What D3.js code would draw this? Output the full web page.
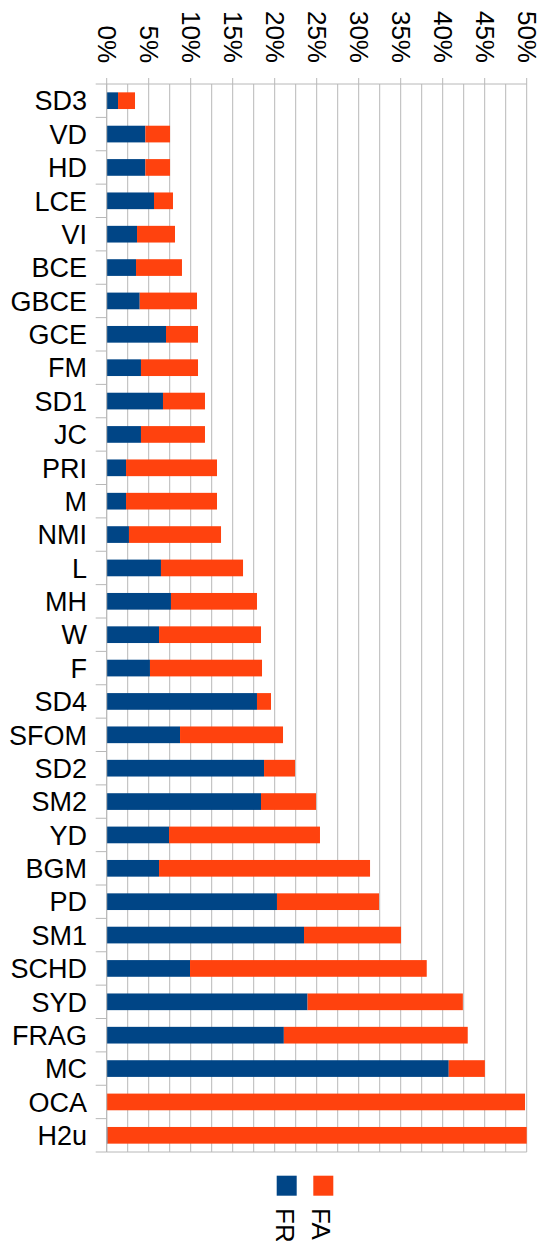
<!DOCTYPE html>
<html>
<head>
<meta charset="utf-8">
<script src="https://cdn.jsdelivr.net/npm/d3@7"></script>
<style>
  html, body { margin: 0; padding: 0; background: #fff; }
  svg { display: block; }
  text { font-family: "Liberation Sans", Arial, sans-serif; fill: #000; }
</style>
</head>
<body>
<svg id="chart" width="539" height="1241"></svg>
<script>
// ---- data ----
const categories = ["SD3","VD","HD","LCE","VI","BCE","GBCE","GCE","FM","SD1","JC","PRI","M","NMI","L","MH","W","F","SD4","SFOM","SD2","SM2","YD","BGM","PD","SM1","SCHD","SYD","FRAG","MC","OCA","H2u"];
const FR = [1.35,4.6,4.6,5.63,3.61,3.49,3.93,7.06,4.08,6.70,4.08,2.30,2.30,2.65,6.46,7.65,6.23,5.15,17.89,8.73,18.73,18.37,7.42,6.23,20.27,23.49,9.92,23.91,21.09,40.72,0,0.1];
const FA = [2.02,2.94,2.94,2.26,4.52,5.47,6.82,3.81,6.79,5.00,7.62,10.83,10.83,10.96,9.77,10.24,12.14,13.34,1.67,12.26,3.69,6.55,17.97,25.12,12.15,11.55,28.18,18.49,21.89,4.30,49.8,49.9];
const seriesNames = ["FR","FA"];
const seriesColors = ["#004586","#ff420e"];
const tickValues = [0,5,10,15,20,25,30,35,40,45,50];
const gridValues = d3.range(0, 50.01, 2.5);

// ---- layout ----
const svg = d3.select("#chart");
const pLeft = 106.7, pRight = 526.7, pTop = 84, pBottom = 1152;
const x = d3.scaleLinear().domain([0, 50]).range([pLeft, pRight]);
const y = d3.scaleBand().domain(categories).range([pTop, pBottom]).paddingInner(0.5).paddingOuter(0.25);
const gridColor = "#b8b8b8";

// gridlines
svg.append("g").selectAll("line").data(gridValues).join("line")
  .attr("x1", d => x(d)).attr("x2", d => x(d))
  .attr("y1", pTop).attr("y2", pBottom)
  .attr("stroke", gridColor).attr("stroke-width", 1);

// bars
const stacked = categories.map((c, i) => ({ c, fr: FR[i], fa: FA[i] }));
const gBars = svg.append("g");
gBars.selectAll("rect.fr").data(stacked).join("rect")
  .attr("class", "fr")
  .attr("x", x(0))
  .attr("y", d => y(d.c))
  .attr("width", d => x(d.fr) - x(0))
  .attr("height", y.bandwidth())
  .attr("fill", seriesColors[0]);
gBars.selectAll("rect.fa").data(stacked).join("rect")
  .attr("class", "fa")
  .attr("x", d => x(d.fr))
  .attr("y", d => y(d.c))
  .attr("width", d => x(Math.min(50, d.fr + d.fa)) - x(d.fr))
  .attr("height", y.bandwidth())
  .attr("fill", seriesColors[1]);

// frame lines: left axis, top & bottom
const boundaries = d3.range(0, categories.length + 1).map(i => pTop + i * (pBottom - pTop) / categories.length);
svg.append("g").selectAll("line").data(boundaries).join("line")
  .attr("x1", pLeft - 11).attr("x2", pLeft)
  .attr("y1", d => d).attr("y2", d => d)
  .attr("stroke", gridColor);
svg.append("line").attr("x1", pLeft).attr("x2", pLeft).attr("y1", pTop).attr("y2", pBottom).attr("stroke", gridColor);
svg.append("line").attr("x1", pLeft).attr("x2", pRight).attr("y1", pTop).attr("y2", pTop).attr("stroke", gridColor);
svg.append("line").attr("x1", pLeft).attr("x2", pRight).attr("y1", pBottom).attr("y2", pBottom).attr("stroke", gridColor);

// top major ticks
svg.append("g").selectAll("line").data(tickValues).join("line")
  .attr("x1", d => x(d)).attr("x2", d => x(d))
  .attr("y1", pTop - 6).attr("y2", pTop)
  .attr("stroke", gridColor);

// top tick labels (rotated)
svg.append("g").selectAll("text").data(tickValues).join("text")
  .attr("transform", d => `translate(${x(d)},63) rotate(90)`)
  .attr("text-anchor", "end")
  .attr("dy", "0.35em")
  .style("font-size", "26px")
  .text(d => d + "%");

// category labels
svg.append("g").selectAll("text").data(categories).join("text")
  .attr("x", 87)
  .attr("y", d => y(d) + y.bandwidth() / 2)
  .attr("dy", "0.36em")
  .attr("text-anchor", "end")
  .style("font-size", "27px")
  .text(d => d);

// legend
const legend = svg.append("g");
const legendX = [276.7, 313.3];
seriesNames.forEach((name, i) => {
  legend.append("rect")
    .attr("x", legendX[i]).attr("y", 1175.7)
    .attr("width", 20).attr("height", 20)
    .attr("fill", seriesColors[i]);
  legend.append("text")
    .attr("transform", `translate(${legendX[i] + 8},1208) rotate(90)`)
    .attr("text-anchor", "start")
    .attr("dy", "0.35em")
    .style("font-size", "26px")
    .text(name);
});
</script>
</body>
</html>
